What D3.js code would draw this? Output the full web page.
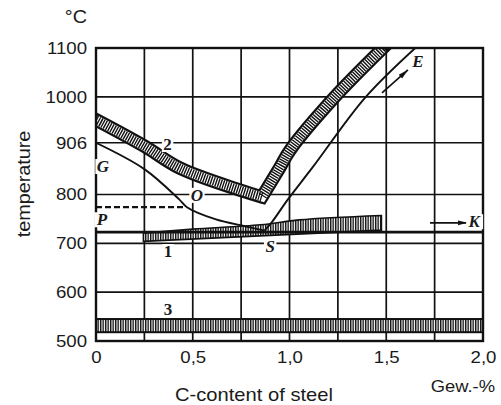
<!DOCTYPE html>
<html>
<head>
<meta charset="utf-8">
<script src="https://cdn.jsdelivr.net/npm/d3@7"></script>
<style>
body { margin: 0; background: #fff; }
svg text { font-family: "Liberation Sans", Arial, Helvetica, sans-serif; fill: #1a1a1a; }
</style>
</head>
<body>
<div id="chart"></div>
<script>
var W = 501, H = 405,
	plotL = 96, plotR = 483, plotT = 48, plotB = 341;

// ticks and grid
var tempTicks = [500, 600, 700, 800, 906, 1000, 1100];
var tempGrid = [600, 700, 800, 906, 1000];
var carbonTicks = [0, 0.5, 1.0, 1.5, 2.0];
var carbonGrid = [0.25, 0.5, 0.75, 1.0, 1.25, 1.5, 1.75];
var a1Temp = 723;

// hatched band 2 (two branches meeting in the V)
var band2Left = [[0, 953], [0.25, 899], [0.434, 854], [0.744, 809], [0.858, 795]];
var band2Right = [[0.858, 795], [0.951, 856], [1.003, 891], [1.23, 998], [1.483, 1100]];

// thin lines G-O-S and S-E, dashed P-O
var lineGOS = [[0, 906], [0.25, 852], [0.43, 790], [0.47, 774], [0.62, 749], [0.77, 735], [0.87, 726]];
var lineSE = [[0.87, 726], [0.91, 744], [0.99, 789], [1.12, 856], [1.39, 998], [1.65, 1100]];
var lineP = [[0, 774], [0.46, 774]];

// hatched band 1 (wedge) and band 3 (flat)
var band1Top = [[0.245, 721], [0.5, 729], [0.85, 738], [1.05, 748], [1.475, 757]];
var band1Bottom = [[1.475, 727], [0.245, 704]];
var band3 = [518, 545];

// arrows
var arrowE = [[1.478, 1008], [1.612, 1055]];
var arrowK = [[1.726, 742], [1.92, 742]];

// labels: text, C, T (baseline), italic
var labels = [
	["2", 0.37, 891, false],
	["G", 0.036, 846, true],
	["P", 0.031, 737, true],
	["O", 0.522, 787, true],
	["1", 0.372, 672, false],
	["3", 0.372, 553, false],
	["S", 0.9, 682, true],
	["E", 1.664, 1061, true],
	["K", 1.955, 733, true]
];

var x = d3.scaleLinear().domain([0, 2]).range([plotL, plotR]);
var y = d3.scaleLinear().domain([500, 1100]).range([plotB, plotT]);

var svg = d3.select("#chart").append("svg")
	.attr("width", W)
	.attr("height", H);

var defs = svg.append("defs");
var pat = defs.append("pattern")
	.attr("id", "hatch")
	.attr("patternUnits", "userSpaceOnUse")
	.attr("width", 2.5)
	.attr("height", 10);
pat.append("rect").attr("width", 2.5).attr("height", 10).attr("fill", "#fff");
pat.append("rect").attr("width", 1.4).attr("height", 10).attr("fill", "#111");

defs.append("clipPath").attr("id", "plot")
	.append("rect")
	.attr("x", plotL).attr("y", plotT)
	.attr("width", plotR - plotL).attr("height", plotB - plotT);

defs.append("marker")
	.attr("id", "head")
	.attr("markerUnits", "userSpaceOnUse")
	.attr("markerWidth", 11).attr("markerHeight", 6)
	.attr("refX", 10).attr("refY", 2.5)
	.attr("orient", "auto")
	.append("path")
	.attr("d", "M0,0 L10,2.5 L0,5 Z")
	.attr("fill", "#111");

function addText(g, str, px, py, size, anchor, sx) {
	return g.append("text")
		.attr("transform", "translate(" + px + "," + py + ") scale(" + sx + ",1)")
		.attr("text-anchor", anchor)
		.style("font-size", size + "px")
		.text(str);
}

var line = d3.line()
	.x(function(d) { return x(d[0]); })
	.y(function(d) { return y(d[1]); })
	.curve(d3.curveCatmullRom.alpha(0.5));
var straight = d3.line()
	.x(function(d) { return x(d[0]); })
	.y(function(d) { return y(d[1]); });

// grid
var grid = svg.append("g").attr("stroke", "#111").attr("stroke-width", 1.7);
grid.selectAll(".vg")
	.data(carbonGrid)
	.enter().append("line")
	.attr("x1", x).attr("x2", x)
	.attr("y1", plotT).attr("y2", plotB);
grid.selectAll(".hg")
	.data(tempGrid)
	.enter().append("line")
	.attr("x1", plotL).attr("x2", plotR)
	.attr("y1", y).attr("y2", y);

var plot = svg.append("g").attr("clip-path", "url(#plot)");

// band 3
plot.append("rect")
	.attr("x", x(0)).attr("width", x(2) - x(0))
	.attr("y", y(band3[1])).attr("height", y(band3[0]) - y(band3[1]))
	.attr("fill", "url(#hatch)")
	.attr("stroke", "#111").attr("stroke-width", 2);

// band 1
var b1 = line(band1Top) + "L" + band1Bottom.map(function(d) { return x(d[0]) + "," + y(d[1]); }).join("L") + "Z";
plot.append("path")
	.attr("d", b1)
	.attr("fill", "url(#hatch)")
	.attr("stroke", "#111").attr("stroke-width", 1.6);

// A1 line
plot.append("line")
	.attr("x1", plotL).attr("x2", plotR)
	.attr("y1", y(a1Temp)).attr("y2", y(a1Temp))
	.attr("stroke", "#111").attr("stroke-width", 2.6);

// thin lines
plot.append("path").attr("d", line(lineGOS))
	.attr("fill", "none").attr("stroke", "#111").attr("stroke-width", 1.9);
plot.append("path").attr("d", line(lineSE))
	.attr("fill", "none").attr("stroke", "#111").attr("stroke-width", 1.9);
plot.append("path").attr("d", straight(lineP))
	.attr("fill", "none").attr("stroke", "#111").attr("stroke-width", 2.2)
	.attr("stroke-dasharray", "6,3");

// band 2: one path with a sharp V
var b2 = line(band2Left) + line(band2Right).replace(/^M[^A-Za-z]*/, "");
plot.append("path").attr("d", b2)
	.attr("fill", "none").attr("stroke", "#111").attr("stroke-width", 13.5)
	.attr("stroke-linecap", "square").attr("stroke-linejoin", "miter");
plot.append("path").attr("d", b2)
	.attr("fill", "none").attr("stroke", "#fff").attr("stroke-width", 9)
	.attr("stroke-linejoin", "miter");
plot.append("path").attr("d", b2)
	.attr("fill", "none").attr("stroke", "#111").attr("stroke-width", 9)
	.attr("stroke-dasharray", "1.4,1.1").attr("stroke-linejoin", "miter");

// arrows
[arrowE, arrowK].forEach(function(a) {
	svg.append("path").attr("d", straight(a))
		.attr("fill", "none").attr("stroke", "#111").attr("stroke-width", 1.7)
		.attr("marker-end", "url(#head)");
});

// frame
svg.append("rect")
	.attr("x", plotL).attr("y", plotT)
	.attr("width", plotR - plotL).attr("height", plotB - plotT)
	.attr("fill", "none").attr("stroke", "#111").attr("stroke-width", 2.4);

// curve labels
var lab = svg.append("g");
labels.forEach(function(l) {
	var t = lab.append("text")
		.attr("x", x(l[1])).attr("y", y(l[2]))
		.attr("text-anchor", "middle")
		.style("font-family", "'Liberation Serif', 'DejaVu Serif', serif")
		.style("font-weight", "bold")
		.style("font-style", l[3] ? "italic" : "normal")
		.style("font-size", "17px")
		.text(l[0]);
	var bb = t.node().getBBox();
	lab.insert("rect", function() { return t.node(); })
		.attr("x", bb.x - 1.5).attr("y", bb.y + 2)
		.attr("width", bb.width + 3).attr("height", bb.height - 4)
		.attr("fill", "#fff");
});

// axes
var yAxis = svg.append("g")
	.attr("transform", "translate(" + plotL + ",0)")
	.call(d3.axisLeft(y).tickValues(tempTicks).tickSize(0).tickFormat(d3.format("d")));
yAxis.select(".domain").remove();
yAxis.attr("font-family", null);
yAxis.selectAll("text")
	.attr("x", null)
	.attr("dy", "0.32em")
	.attr("transform", "translate(-9,0) scale(1.13,1)")
	.style("font-size", "16.5px")
	.attr("fill", "#1a1a1a");

var xAxis = svg.append("g")
	.attr("transform", "translate(0," + plotB + ")")
	.call(d3.axisBottom(x).tickValues(carbonTicks).tickSize(0).tickPadding(10)
		.tickFormat(function(d) { return d === 0 ? "0" : d3.format(".1f")(d).replace(".", ","); }));
xAxis.select(".domain").remove();
xAxis.attr("font-family", null);
xAxis.selectAll("text")
	.attr("transform", "scale(1.13,1)")
	.style("font-size", "16.5px")
	.attr("fill", "#1a1a1a");

// titles
addText(svg, "°C", 87, 23, 18, "end", 1.1);
addText(svg, "C-content of steel", 254, 401, 18, "middle", 1.12);
addText(svg, "Gew.-%", 495, 392, 17, "end", 1.08);
svg.append("text")
	.attr("transform", "translate(30,184) rotate(-90) scale(1.1,1)")
	.attr("text-anchor", "middle")
	.style("font-size", "18px")
	.text("temperature");
</script>
</body>
</html>
